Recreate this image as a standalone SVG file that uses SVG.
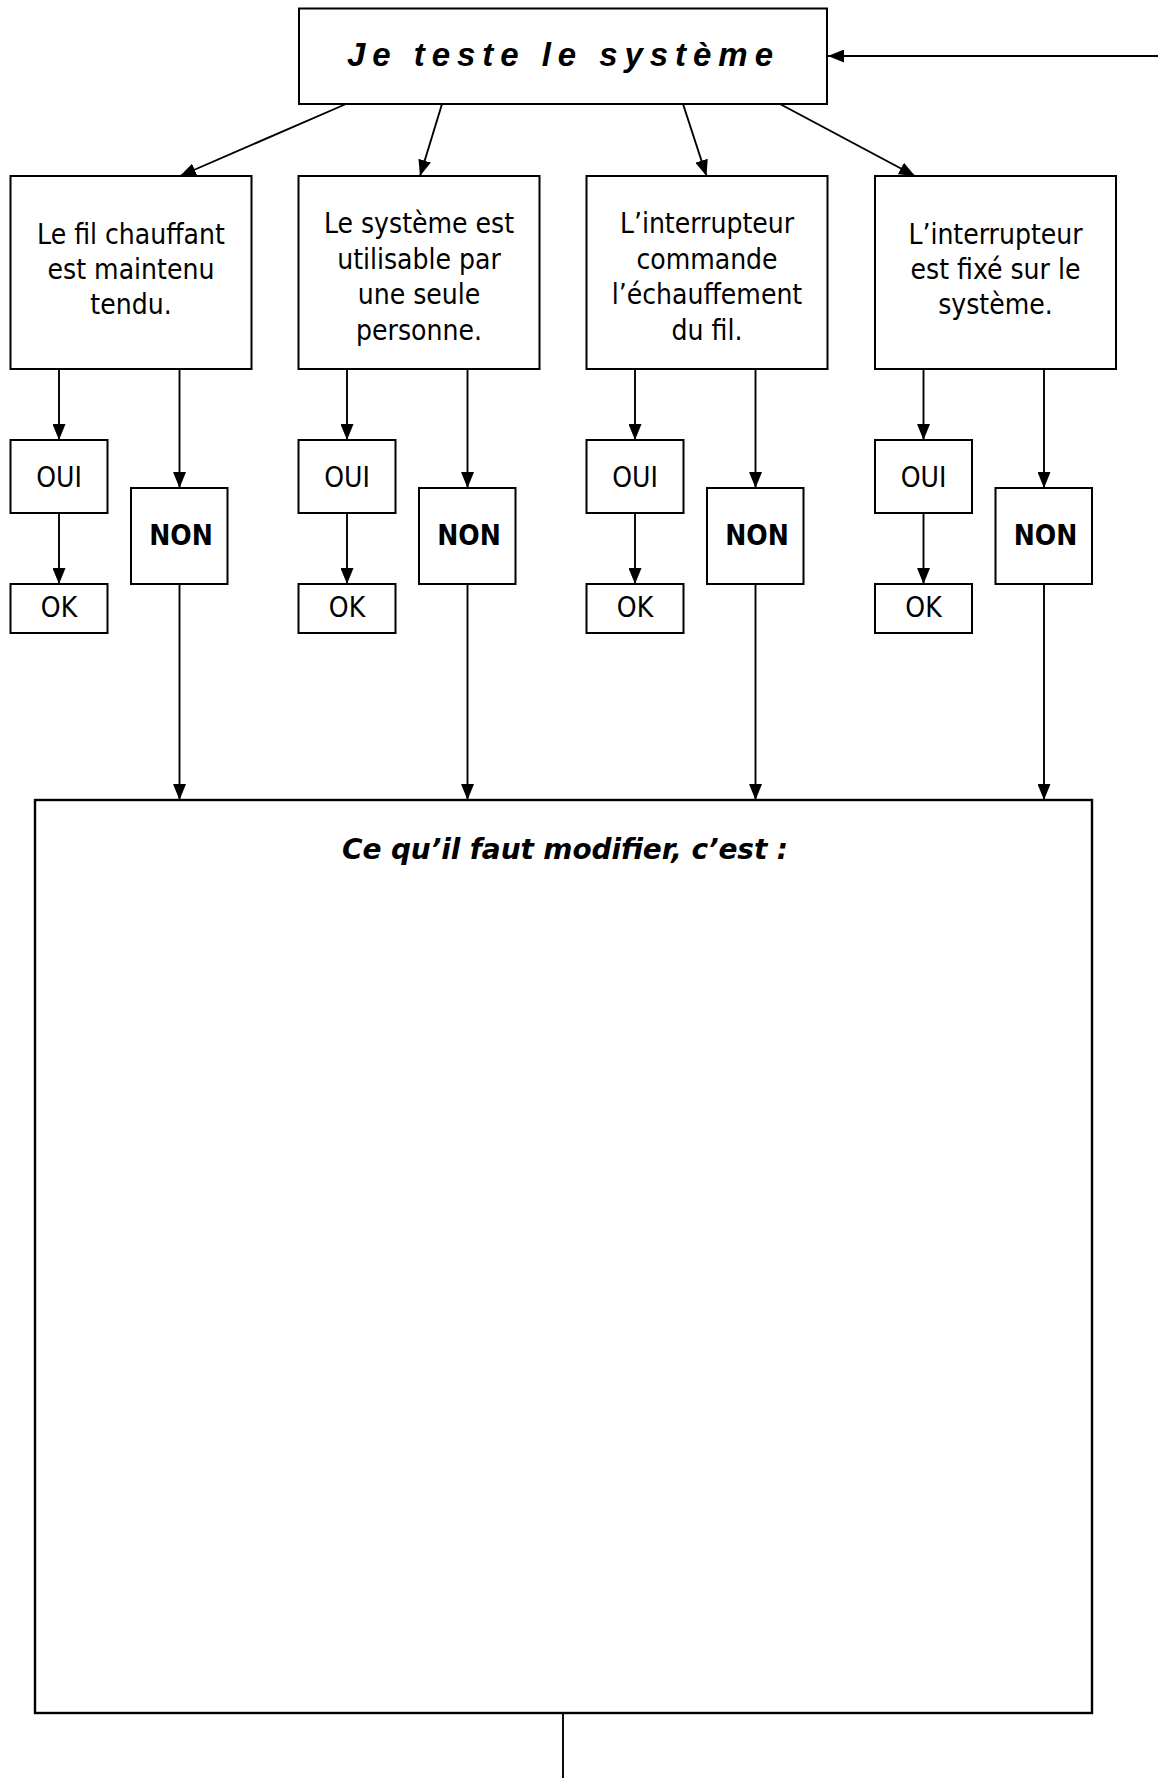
<svg xmlns="http://www.w3.org/2000/svg" width="1158" height="1778" viewBox="0 0 1158 1778">
  <style>
    .box { fill: #ffffff; stroke: #000000; stroke-width: 2; }
    .big { fill: #ffffff; stroke: #000000; stroke-width: 2.4; }
    .wire { fill: none; stroke: #000000; stroke-width: 1.9; }
    .arrow { marker-end: url(#ah); }
    .lbl { font-family: "DejaVu Sans Condensed", "DejaVu Sans", "Liberation Sans", sans-serif; font-stretch: condensed; font-size: 28px; fill: #000000; text-anchor: middle; }
    .bold { font-weight: bold; }
    .title { font-family: "Liberation Sans", Arial, sans-serif; font-weight: bold; font-style: italic; fill: #000000; }
    .note { font-family: "DejaVu Sans", Verdana, sans-serif; font-weight: bold; font-style: italic; fill: #000000; }
  </style>
  <defs>
    <marker id="ah" viewBox="0 0 16 13" refX="16" refY="6.5" markerWidth="16" markerHeight="13" markerUnits="userSpaceOnUse" orient="auto">
      <path d="M0,0 L16,6.5 L0,13 z" fill="#000000"/>
    </marker>
  </defs>

  <rect width="1158" height="1778" fill="#ffffff"/>

  <!-- connectors -->
  <g id="connectors">
    <!-- loop back into the test box -->
    <line class="wire arrow" x1="1158" y1="56" x2="828" y2="56"/>
    <!-- test box to the four criteria -->
    <line class="wire arrow" x1="346" y1="104" x2="180" y2="176"/>
    <line class="wire arrow" x1="442" y1="104" x2="420" y2="176"/>
    <line class="wire arrow" x1="683" y1="104" x2="706.5" y2="176"/>
    <line class="wire arrow" x1="780" y1="104" x2="915" y2="176"/>
    <!-- column 1 -->
    <line class="wire arrow" x1="59" y1="369" x2="59" y2="440"/>
    <line class="wire arrow" x1="59" y1="513" x2="59" y2="584"/>
    <line class="wire arrow" x1="179.5" y1="369" x2="179.5" y2="488"/>
    <line class="wire arrow" x1="179.5" y1="584" x2="179.5" y2="800"/>
    <!-- column 2 -->
    <line class="wire arrow" x1="347" y1="369" x2="347" y2="440"/>
    <line class="wire arrow" x1="347" y1="513" x2="347" y2="584"/>
    <line class="wire arrow" x1="467.5" y1="369" x2="467.5" y2="488"/>
    <line class="wire arrow" x1="467.5" y1="584" x2="467.5" y2="800"/>
    <!-- column 3 -->
    <line class="wire arrow" x1="635" y1="369" x2="635" y2="440"/>
    <line class="wire arrow" x1="635" y1="513" x2="635" y2="584"/>
    <line class="wire arrow" x1="755.5" y1="369" x2="755.5" y2="488"/>
    <line class="wire arrow" x1="755.5" y1="584" x2="755.5" y2="800"/>
    <!-- column 4 -->
    <line class="wire arrow" x1="923.5" y1="369" x2="923.5" y2="440"/>
    <line class="wire arrow" x1="923.5" y1="513" x2="923.5" y2="584"/>
    <line class="wire arrow" x1="1044" y1="369" x2="1044" y2="488"/>
    <line class="wire arrow" x1="1044" y1="584" x2="1044" y2="800"/>
    <!-- exit from the summary box -->
    <line class="wire" x1="563" y1="1713" x2="563" y2="1778"/>
  </g>

  <!-- test box -->
  <g id="test">
    <rect class="box" x="299" y="8.5" width="528" height="95.5"/>
    <text class="title" x="347" y="66" font-size="33" textLength="426" lengthAdjust="spacing">Je teste le système</text>
  </g>

  <!-- criterion 1 -->
  <g id="critere1">
    <rect class="box" x="10.5" y="176" width="241" height="193"/>
    <text class="lbl" x="131" y="244">Le fil chauffant</text>
    <text class="lbl" x="131" y="278.5">est maintenu</text>
    <text class="lbl" x="131" y="313.5">tendu.</text>
  </g>
  <g id="oui1">
    <rect class="box" x="10.5" y="440" width="97" height="73"/>
    <text class="lbl" x="59" y="487">OUI</text>
  </g>
  <g id="ok1">
    <rect class="box" x="10.5" y="584" width="97" height="49"/>
    <text class="lbl" x="59" y="616.5">OK</text>
  </g>
  <g id="non1">
    <rect class="box" x="131" y="488" width="96.5" height="96"/>
    <text class="lbl bold" x="181" y="545">NON</text>
  </g>

  <!-- criterion 2 -->
  <g id="critere2">
    <rect class="box" x="298.5" y="176" width="241" height="193"/>
    <text class="lbl" x="419" y="233">Le système est</text>
    <text class="lbl" x="419" y="268.5">utilisable par</text>
    <text class="lbl" x="419" y="304">une seule</text>
    <text class="lbl" x="419" y="339.5">personne.</text>
  </g>
  <g id="oui2">
    <rect class="box" x="298.5" y="440" width="97" height="73"/>
    <text class="lbl" x="347" y="487">OUI</text>
  </g>
  <g id="ok2">
    <rect class="box" x="298.5" y="584" width="97" height="49"/>
    <text class="lbl" x="347" y="616.5">OK</text>
  </g>
  <g id="non2">
    <rect class="box" x="419" y="488" width="96.5" height="96"/>
    <text class="lbl bold" x="469" y="545">NON</text>
  </g>

  <!-- criterion 3 -->
  <g id="critere3">
    <rect class="box" x="586.5" y="176" width="241" height="193"/>
    <text class="lbl" x="707" y="233">L’interrupteur</text>
    <text class="lbl" x="707" y="268.5">commande</text>
    <text class="lbl" x="707" y="304">l’échauffement</text>
    <text class="lbl" x="707" y="339.5">du fil.</text>
  </g>
  <g id="oui3">
    <rect class="box" x="586.5" y="440" width="97" height="73"/>
    <text class="lbl" x="635" y="487">OUI</text>
  </g>
  <g id="ok3">
    <rect class="box" x="586.5" y="584" width="97" height="49"/>
    <text class="lbl" x="635" y="616.5">OK</text>
  </g>
  <g id="non3">
    <rect class="box" x="707" y="488" width="96.5" height="96"/>
    <text class="lbl bold" x="757" y="545">NON</text>
  </g>

  <!-- criterion 4 -->
  <g id="critere4">
    <rect class="box" x="875" y="176" width="241" height="193"/>
    <text class="lbl" x="995.5" y="244">L’interrupteur</text>
    <text class="lbl" x="995.5" y="278.5">est fixé sur le</text>
    <text class="lbl" x="995.5" y="313.5">système.</text>
  </g>
  <g id="oui4">
    <rect class="box" x="875" y="440" width="97" height="73"/>
    <text class="lbl" x="923.5" y="487">OUI</text>
  </g>
  <g id="ok4">
    <rect class="box" x="875" y="584" width="97" height="49"/>
    <text class="lbl" x="923.5" y="616.5">OK</text>
  </g>
  <g id="non4">
    <rect class="box" x="995.5" y="488" width="96.5" height="96"/>
    <text class="lbl bold" x="1045.5" y="545">NON</text>
  </g>

  <!-- summary box -->
  <g id="modifier">
    <rect class="big" x="35" y="800" width="1057" height="913"/>
    <text class="note" x="342" y="859" font-size="28" textLength="446" lengthAdjust="spacing">Ce qu’il faut modifier, c’est :</text>
  </g>
</svg>
